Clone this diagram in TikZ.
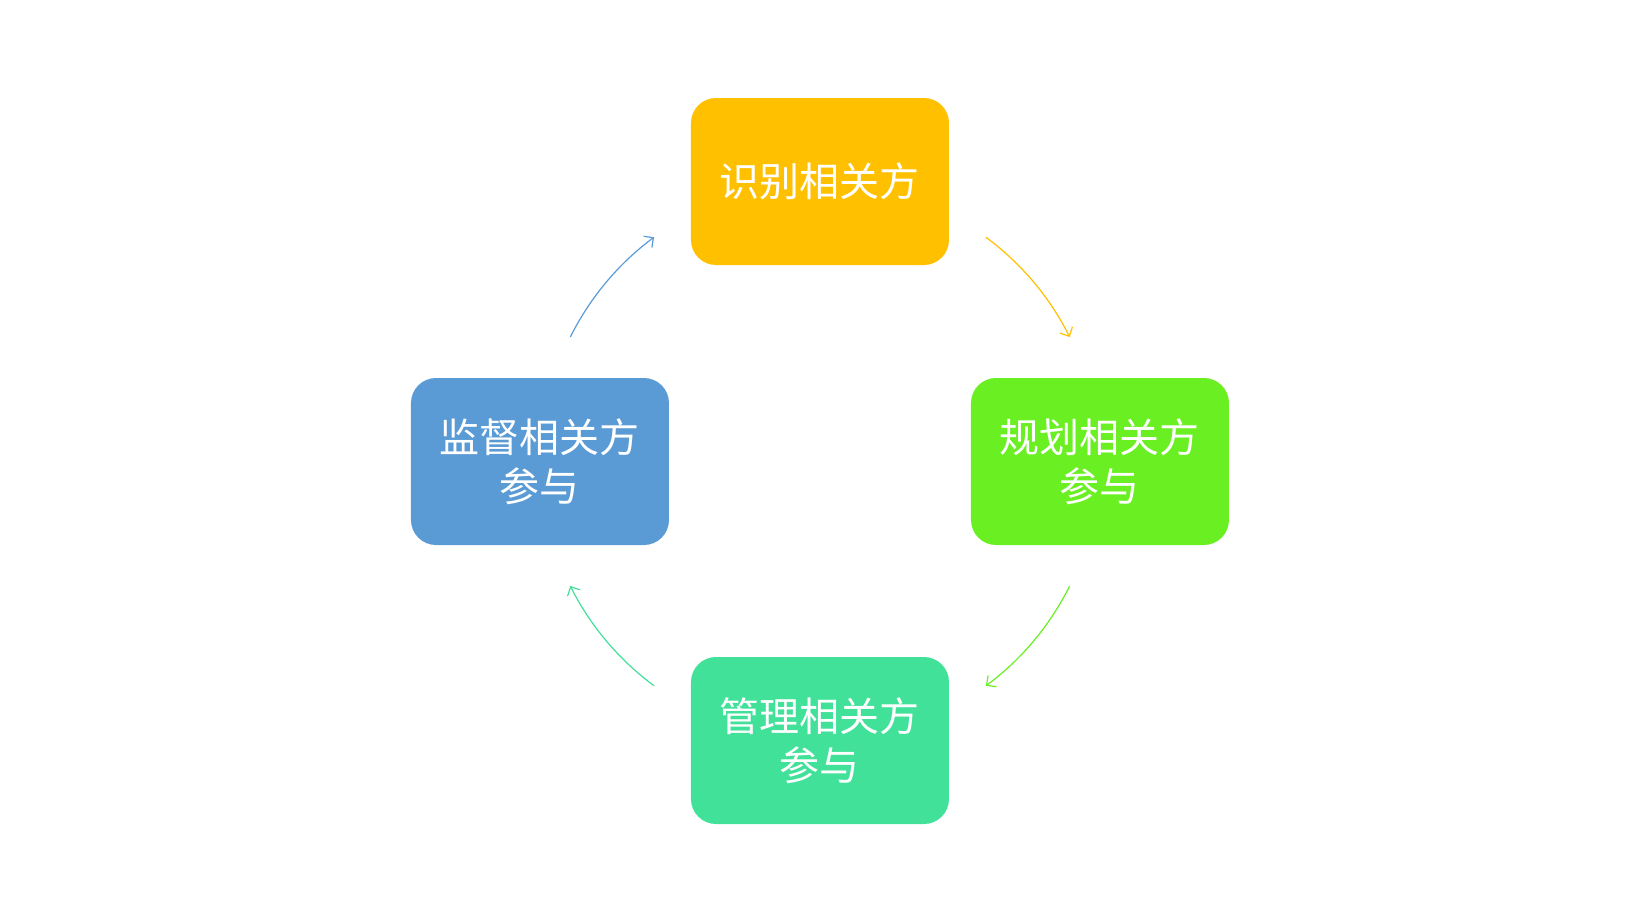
\documentclass[tikz,border=0pt]{standalone}
\usepackage{fontspec}
\newfontfamily\cjk{Noto Sans CJK SC}
\usepackage{tikz}
\usetikzlibrary{arrows.meta, positioning}
\definecolor{stepyellow}{HTML}{FFC000}
\definecolor{stepgreen}{HTML}{6AEF22}
\definecolor{stepteal}{HTML}{41E19A}
\definecolor{stepblue}{HTML}{5B9BD5}

\begin{document}
\begin{tikzpicture}[x=0.5pt, y=0.5pt,
    box/.style={rounded corners=12.5pt, minimum width=129pt, minimum height=83.5pt,
        text=white, align=center, font={\cjk\fontsize{20}{24.5}\selectfont}},
    flow/.style={line width=0.6pt, -{Straight Barb[length=3.5pt, width=7pt]}}]
    % Canvas
    \useasboundingbox (-820,-461.5) rectangle (820,461.5);
    \coordinate (c) at (0,0);

    % Steps
    \node[box, fill=stepyellow] (identify) at (0,280) {识别相关方};
    \node[box, fill=stepgreen] (plan) at (280,0) {规划相关方\\参与};
    \node[box, fill=stepteal] (manage) at (0,-279) {管理相关方\\参与};
    \node[box, fill=stepblue] (monitor) at (-280,0) {监督相关方\\参与};

    % Cycle arrows
    \foreach \a/\col in {53.5/stepyellow, -26.5/stepgreen, -126.5/stepteal, 153.5/stepblue} {
        \draw[flow, \col] ([shift={(\a:279)}]c) arc[start angle=\a, delta angle=-27, radius=139.5pt];
    }
\end{tikzpicture}
\end{document}
